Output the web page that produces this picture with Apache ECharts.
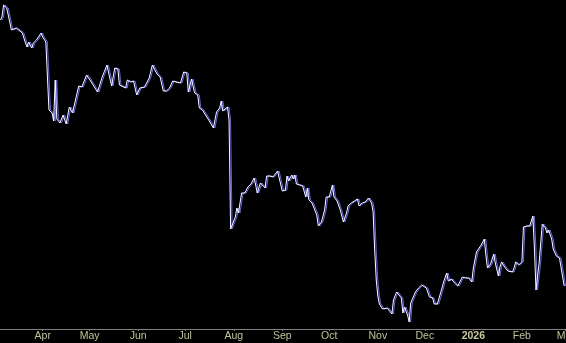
<!DOCTYPE html>
<html>
<head>
<meta charset="utf-8">
<script src="https://cdn.jsdelivr.net/npm/echarts@6/dist/echarts.min.js"></script>
<style>
html,body{margin:0;padding:0;background:#000;}
#c{width:566px;height:343px;}
</style>
</head>
<body>
<div id="c"></div>
<script>
// Dates of the sampled observations
const dates = [
'2025-03-05','2025-03-06','2025-03-07','2025-03-08','2025-03-09','2025-03-10','2025-03-12','2025-03-15','2025-03-16','2025-03-19',
'2025-03-21','2025-03-22','2025-03-23','2025-03-25','2025-03-26','2025-03-28','2025-03-31','2025-04-01','2025-04-03','2025-04-05',
'2025-04-07','2025-04-08','2025-04-09','2025-04-10','2025-04-12','2025-04-14','2025-04-16','2025-04-18','2025-04-20','2025-04-24',
'2025-04-26','2025-04-29','2025-05-02','2025-05-06','2025-05-09','2025-05-10','2025-05-12','2025-05-15','2025-05-17','2025-05-19',
'2025-05-20','2025-05-24','2025-05-25','2025-05-27','2025-05-29','2025-05-31','2025-06-02','2025-06-05','2025-06-08','2025-06-10',
'2025-06-11','2025-06-13','2025-06-15','2025-06-17','2025-06-19','2025-06-21','2025-06-23','2025-06-25','2025-06-28','2025-06-30',
'2025-07-02','2025-07-03','2025-07-05','2025-07-07','2025-07-09','2025-07-10','2025-07-12','2025-07-14','2025-07-15','2025-07-16',
'2025-07-19','2025-07-21','2025-07-23','2025-07-24','2025-07-25','2025-07-28','2025-07-29','2025-07-30','2025-07-31','2025-08-02',
'2025-08-03','2025-08-04','2025-08-05','2025-08-06','2025-08-08','2025-08-09','2025-08-10','2025-08-12','2025-08-14','2025-08-15',
'2025-08-16','2025-08-18','2025-08-19','2025-08-21','2025-08-22','2025-08-24','2025-08-26','2025-08-27','2025-08-29','2025-08-30',
'2025-09-01','2025-09-03','2025-09-04','2025-09-05','2025-09-07','2025-09-08','2025-09-09','2025-09-10','2025-09-12','2025-09-14',
'2025-09-16','2025-09-17','2025-09-18','2025-09-20','2025-09-21','2025-09-23','2025-09-24','2025-09-26','2025-09-28','2025-09-29',
'2025-09-30','2025-10-01','2025-10-03','2025-10-04','2025-10-06','2025-10-08','2025-10-10','2025-10-12','2025-10-13','2025-10-15',
'2025-10-17','2025-10-19','2025-10-20','2025-10-22','2025-10-24','2025-10-26','2025-10-28','2025-10-29','2025-10-30','2025-10-31',
'2025-11-01','2025-11-02','2025-11-04','2025-11-07','2025-11-08','2025-11-10','2025-11-11','2025-11-13','2025-11-14','2025-11-16',
'2025-11-17','2025-11-18','2025-11-20','2025-11-21','2025-11-22','2025-11-23','2025-11-25','2025-11-27','2025-11-29','2025-11-30',
'2025-12-02','2025-12-04','2025-12-06','2025-12-07','2025-12-09','2025-12-10','2025-12-12','2025-12-13','2025-12-15','2025-12-16',
'2025-12-18','2025-12-20','2025-12-22','2025-12-23','2025-12-25','2025-12-27','2025-12-29','2025-12-31','2026-01-01','2026-01-03',
'2026-01-04','2026-01-06','2026-01-08','2026-01-09','2026-01-10','2026-01-12','2026-01-14','2026-01-15','2026-01-17','2026-01-18',
'2026-01-19','2026-01-21','2026-01-23','2026-01-26','2026-01-27','2026-01-28','2026-01-30','2026-01-31','2026-02-01','2026-02-02',
'2026-02-04','2026-02-06','2026-02-08','2026-02-09','2026-02-10','2026-02-12','2026-02-14','2026-02-16','2026-02-17','2026-02-18',
'2026-02-20','2026-02-21','2026-02-22','2026-02-23','2026-02-25','2026-02-28'
];
// Values (arbitrary price units)
const prices = [
50.9,51.2,52.4,52.5,52.1,51.4,49.9,50.1,50.2,49.6,
48.6,48.2,48.7,48.1,48.6,48.9,49.6,49.2,48.7,41.9,
41.6,40.8,44.9,41.0,40.6,41.4,40.5,42.2,41.6,44.3,
44.2,45.4,44.7,43.7,45.2,45.2,46.4,44.3,46.1,46.0,
44.4,44.1,44.9,44.7,44.8,43.4,44.1,44.2,45.1,46.4,
46.1,45.5,45.2,43.8,43.8,44.1,44.8,44.7,44.6,45.7,
45.6,43.7,45.0,43.6,43.4,42.1,41.9,41.4,41.5,40.9,
40.1,41.7,42.1,42.8,41.8,42.2,40.9,30.0,30.4,31.2,
32.1,31.6,32.6,33.6,33.6,33.4,34.2,34.5,35.1,34.4,
33.6,34.6,34.8,34.1,35.3,35.3,35.2,35.1,35.8,35.1,
33.8,33.9,35.3,34.8,35.4,35.0,35.4,34.5,34.4,34.3,
33.2,34.1,32.9,32.6,32.4,31.4,30.3,30.7,31.9,33.2,
33.3,33.2,34.4,33.2,32.8,31.9,30.7,31.6,32.3,32.6,
32.8,33.0,32.3,32.6,32.7,33.1,32.6,31.7,27.9,24.9,
23.3,22.5,22.0,22.1,21.9,21.5,22.9,23.7,23.7,23.1,
21.6,22.2,21.4,20.7,22.6,22.7,23.7,24.1,24.4,24.2,
24.1,23.2,23.1,22.5,22.5,22.7,24.1,24.7,25.6,24.8,
25.0,24.6,24.3,24.3,25.2,25.1,25.1,24.7,26.1,27.7,
27.6,28.4,29.0,27.4,26.1,26.5,27.5,26.6,25.3,26.2,
26.7,26.2,25.8,25.7,26.1,26.7,26.4,26.5,26.7,30.2,
30.3,30.3,31.3,28.1,23.9,26.6,30.5,30.1,29.6,29.9,
29.0,28.0,28.1,27.3,27.1,24.3
];
const monthNames = ['Jan','Feb','Mar','Apr','May','Jun','Jul','Aug','Sep','Oct','Nov','Dec'];
const axisStart = '2025-03-04 17:30';
const axisEnd = '2026-03-01 04:00';

const data = dates.map((d, i) => [d, prices[i]]);

const chart = echarts.init(document.getElementById('c'), null, {renderer: 'canvas'});
chart.setOption({
  backgroundColor: '#000000',
  animation: false,
  grid: {left: 0, right: 0, top: 0, bottom: 14, containLabel: false, outerBoundsMode: 'none'},
  xAxis: {
    type: 'time',
    min: axisStart,
    max: axisEnd,
    splitNumber: 12,
    minInterval: 28 * 86400000,
    maxInterval: 31 * 86400000,
    axisLine: {show: true, lineStyle: {color: '#808080', width: 1}},
    axisTick: {show: true, length: 2, lineStyle: {color: '#808080'}},
    splitLine: {show: false},
    axisLabel: {
      show: true,
      margin: 2,
      color: '#c2c296',
      fontFamily: 'Liberation Sans',
      fontSize: 10.5,
      hideOverlap: false,
      showMinLabel: false,
      formatter: function (value) {
        const dt = new Date(value);
        if (dt.getDate() !== 1 || dt.getHours() !== 0) return '';
        const m = dt.getMonth();
        if (m === 0) return '{y|' + dt.getFullYear() + '}';
        return monthNames[m];
      },
      rich: {
        y: {fontWeight: 'bold', color: '#c8c89a', fontFamily: 'Liberation Sans', fontSize: 10.5}
      }
    }
  },
  yAxis: {
    type: 'value',
    min: 20,
    max: 52.9,
    show: false,
    splitLine: {show: false}
  },
  series: [{
    type: 'line',
    data: data,
    showSymbol: false,
    symbol: 'none',
    lineStyle: {
      color: '#ffffff',
      width: 1,
      shadowColor: '#6464ff',
      shadowBlur: 0,
      shadowOffsetX: 1.5,
      shadowOffsetY: 0
    }
  }]
});
</script>
</body>
</html>
